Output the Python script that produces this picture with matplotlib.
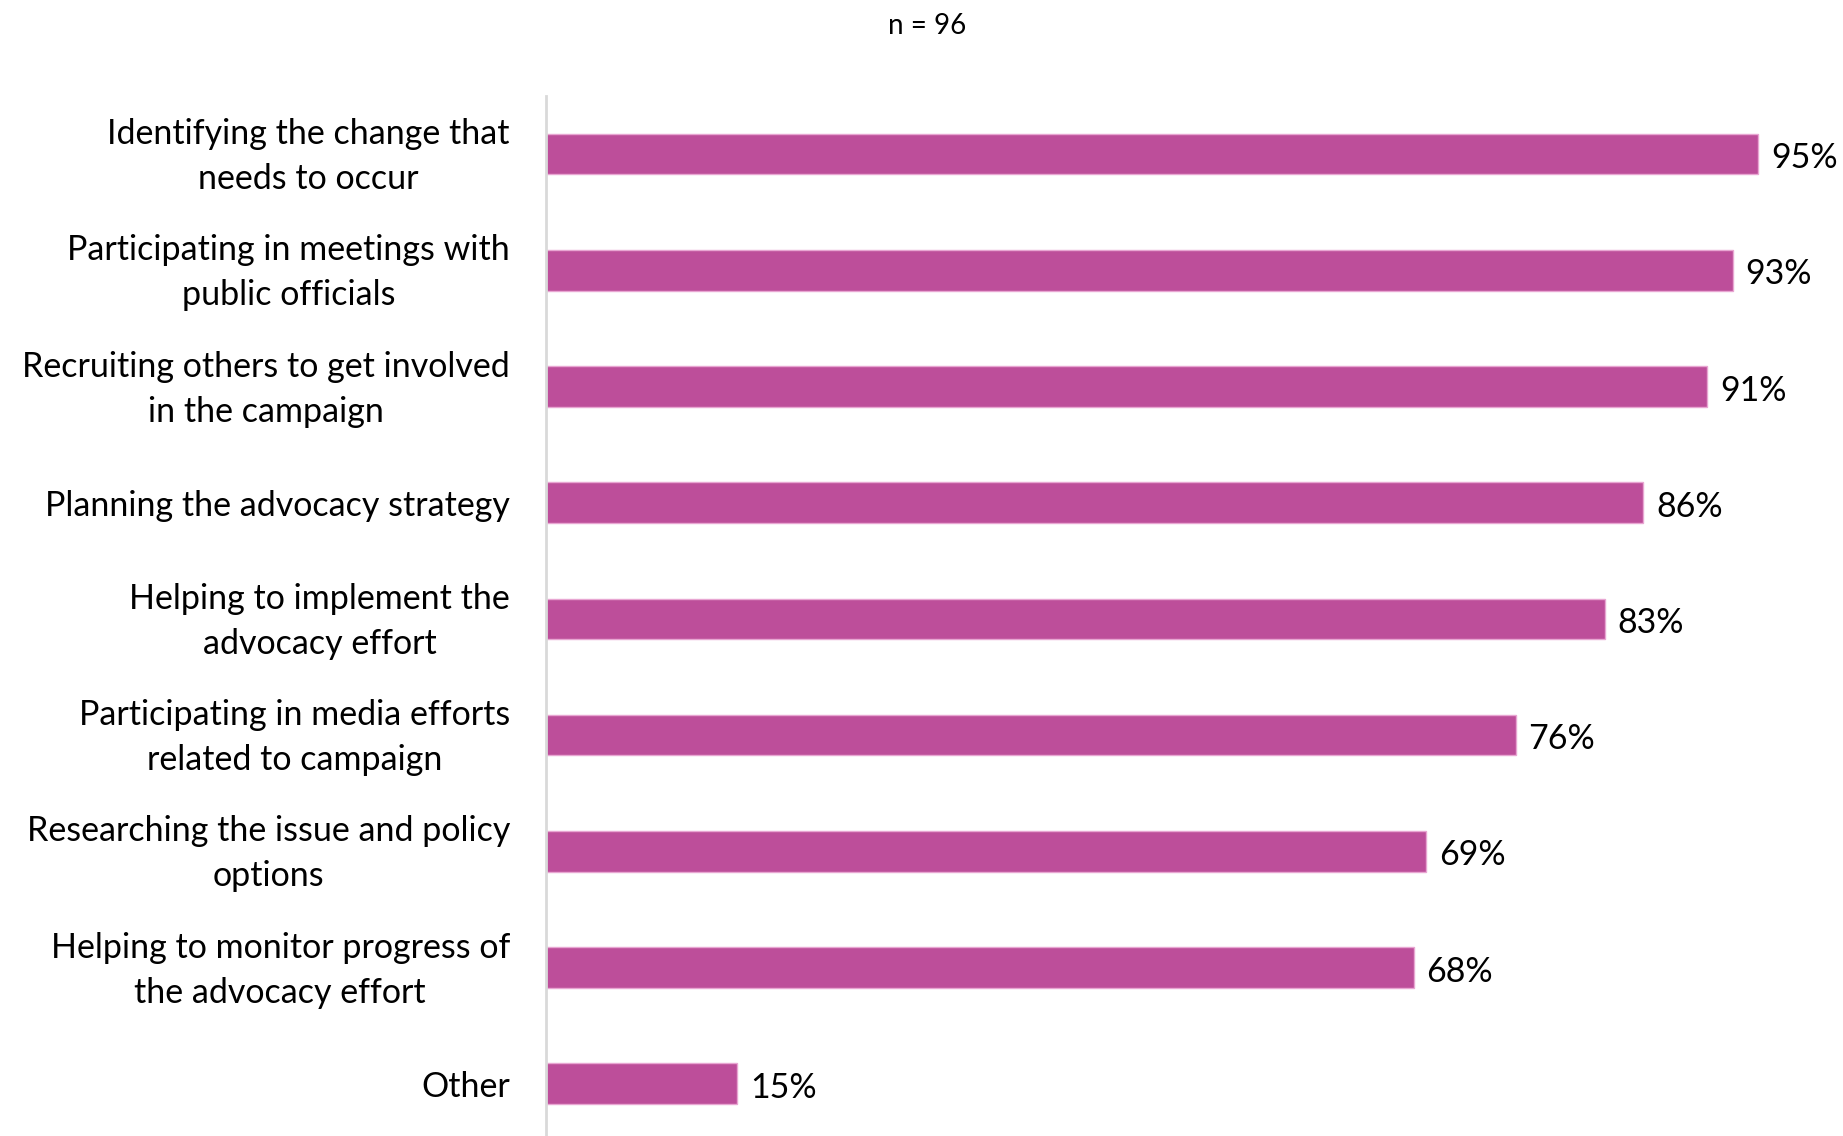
import matplotlib.pyplot as plt
import matplotlib.transforms as mtransforms

# survey responses, n = 96
categories = [
    "Identifying the change that\nneeds to occur",
    "Participating in meetings with\npublic officials",
    "Recruiting others to get involved\nin the campaign",
    "Planning the advocacy strategy",
    "Helping to implement the\nadvocacy effort",
    "Participating in media efforts\nrelated to campaign",
    "Researching the issue and policy\noptions",
    "Helping to monitor progress of\nthe advocacy effort",
    "Other",
]
percent = [95, 93, 91, 86, 83, 76, 69, 68, 15]
value_labels = [f"{v}%" for v in percent]

plt.rcParams['font.family'] = ['Lato', 'DejaVu Sans']

W, H = 1843, 1136
fig = plt.figure(figsize=(W / 100, H / 100), dpi=100)
ax = fig.add_axes([546 / W, 0, (1822 - 546) / W, (H - 96) / H])

ypos = list(range(len(categories)))
ax.barh(ypos, percent, height=0.35, color="#BD4E9A", edgecolor="#E8A6D2", linewidth=1)

# percentage labels, nudged down a few pixels
drop = mtransforms.ScaledTranslation(0, -4 / 100, fig.dpi_scale_trans)
for y, v, lab in zip(ypos, percent, value_labels):
    ax.text(v + 1.0, y, lab, va="center", ha="left", fontsize=24.5, color="black",
            transform=ax.transData + drop)

ax.set_xlim(0, 100)
ax.set_ylim(8.45, -0.5)
ax.set_yticks(ypos)
ax.set_yticklabels(categories, fontsize=24.5, ha="right", multialignment="center",
                   linespacing=1.5)
ax.tick_params(axis="y", length=0, pad=26)
ax.set_xticks([])

# two-line labels sit a touch high against their bar
lift = mtransforms.ScaledTranslation(0, 7 / 100, fig.dpi_scale_trans)
for t in ax.get_yticklabels():
    if "\n" in t.get_text():
        t.set_transform(t.get_transform() + lift)

for side in ["top", "right", "bottom"]:
    ax.spines[side].set_visible(False)
ax.spines["left"].set_color("#D9D9D9")
ax.spines["left"].set_linewidth(2)

fig.text(927 / W, 1 - 26 / H, "n = 96", ha="center", va="center", fontsize=20)

fig.savefig("out.png", dpi=100)
